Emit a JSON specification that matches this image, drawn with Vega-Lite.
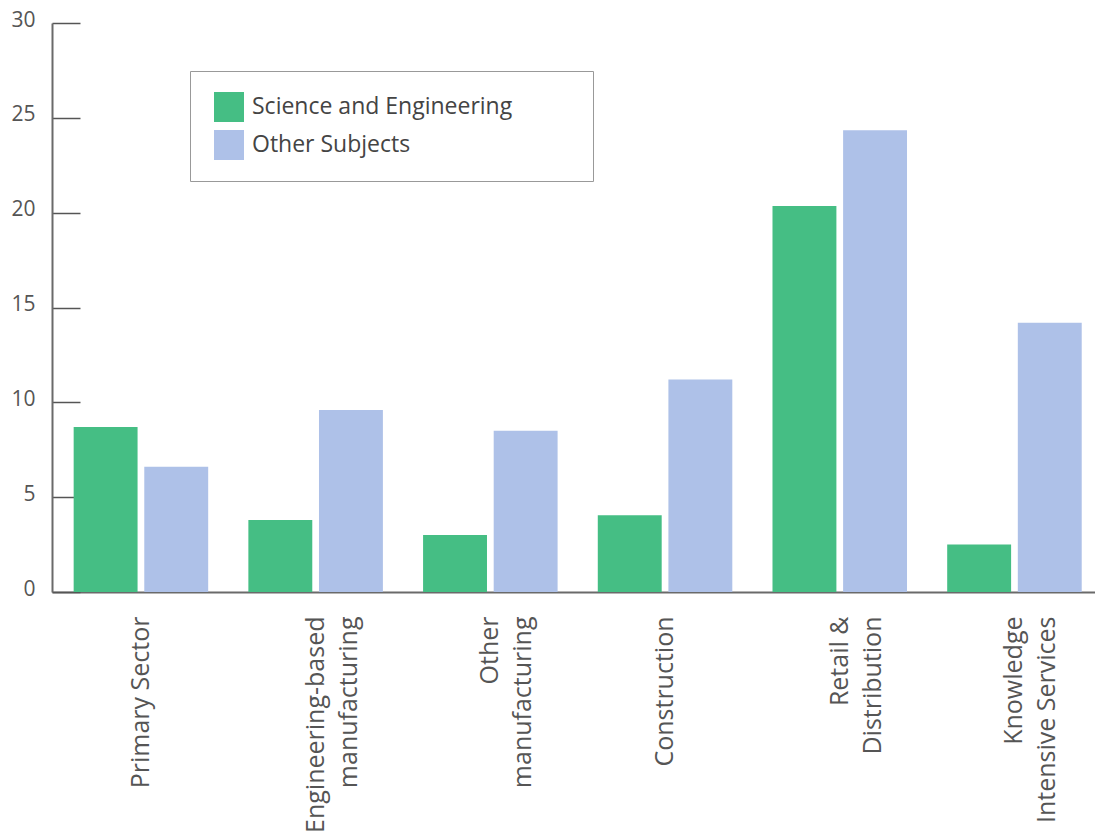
{
  "$schema": "https://vega.github.io/schema/vega-lite/v6.json",
  "autosize": "none",
  "width": 1043,
  "height": 569,
  "padding": {"left": 52, "top": 23, "right": 0, "bottom": 243},
  "background": "white",
  "data": {
    "values": [
      {"sector": "Primary Sector", "subject": "Science and Engineering", "value": 8.7},
      {"sector": "Primary Sector", "subject": "Other Subjects", "value": 6.6},
      {"sector": "Engineering-based|manufacturing", "subject": "Science and Engineering", "value": 3.8},
      {"sector": "Engineering-based|manufacturing", "subject": "Other Subjects", "value": 9.6},
      {"sector": "Other|manufacturing", "subject": "Science and Engineering", "value": 3.0},
      {"sector": "Other|manufacturing", "subject": "Other Subjects", "value": 8.5},
      {"sector": "Construction", "subject": "Science and Engineering", "value": 4.05},
      {"sector": "Construction", "subject": "Other Subjects", "value": 11.2},
      {"sector": "Retail &|Distribution", "subject": "Science and Engineering", "value": 20.35},
      {"sector": "Retail &|Distribution", "subject": "Other Subjects", "value": 24.35},
      {"sector": "Knowledge|Intensive Services", "subject": "Science and Engineering", "value": 2.5},
      {"sector": "Knowledge|Intensive Services", "subject": "Other Subjects", "value": 14.2}
    ]
  },
  "config": {
    "view": {"stroke": null},
    "font": "Open Sans"
  },
  "mark": {"type": "bar"},
  "encoding": {
    "x": {
      "field": "sector",
      "type": "nominal",
      "sort": null,
      "title": null,
      "scale": {"paddingInner": 0.23, "paddingOuter": 0.1, "align": 0.62},
      "axis": {
        "labelAngle": -90,
        "labelExpr": "split(datum.label, '|')",
        "labelFont": "Open Sans",
        "labelFontSize": 25,
        "labelColor": "#555555",
        "labelPadding": 24,
        "labelLineHeight": 33,
        "ticks": false,
        "domainColor": "#6a6a6a",
        "domainWidth": 2,
        "labelLimit": 400
      }
    },
    "xOffset": {
      "field": "subject",
      "type": "nominal",
      "sort": ["Science and Engineering", "Other Subjects"],
      "scale": {"paddingInner": 0.095, "paddingOuter": 0}
    },
    "y": {
      "field": "value",
      "type": "quantitative",
      "title": null,
      "scale": {"domain": [0, 30], "nice": false},
      "axis": {
        "values": [0, 5, 10, 15, 20, 25, 30],
        "grid": false,
        "tickSize": -28,
        "tickColor": "#555555",
        "tickWidth": 1.5,
        "domainColor": "#6a6a6a",
        "domainWidth": 2,
        "labelFont": "Open Sans",
        "labelFontSize": 21,
        "labelColor": "#555555",
        "labelPadding": 45,
        "labelOffset": -3
      }
    },
    "color": {
      "field": "subject",
      "type": "nominal",
      "sort": ["Science and Engineering", "Other Subjects"],
      "scale": {
        "domain": ["Science and Engineering", "Other Subjects"],
        "range": ["#45BE84", "#AEC1E8"]
      },
      "legend": {
        "title": null,
        "orient": "none",
        "legendX": 138,
        "legendY": 48,
        "direction": "vertical",
        "symbolType": "square",
        "symbolSize": 900,
        "symbolStrokeWidth": 0,
        "symbolOffset": 3,
        "labelFont": "Open Sans",
        "labelFontSize": 23,
        "labelColor": "#444444",
        "labelOffset": 8,
        "labelLimit": 600,
        "labelExpr": "datum.label + '\u00a0\u00a0\u00a0\u00a0\u00a0\u00a0\u00a0\u00a0\u00a0\u00a0\u200d'",
        "rowPadding": 8,
        "padding": 21,
        "strokeColor": "#999999",
        "fillColor": "white"
      }
    }
  }
}
